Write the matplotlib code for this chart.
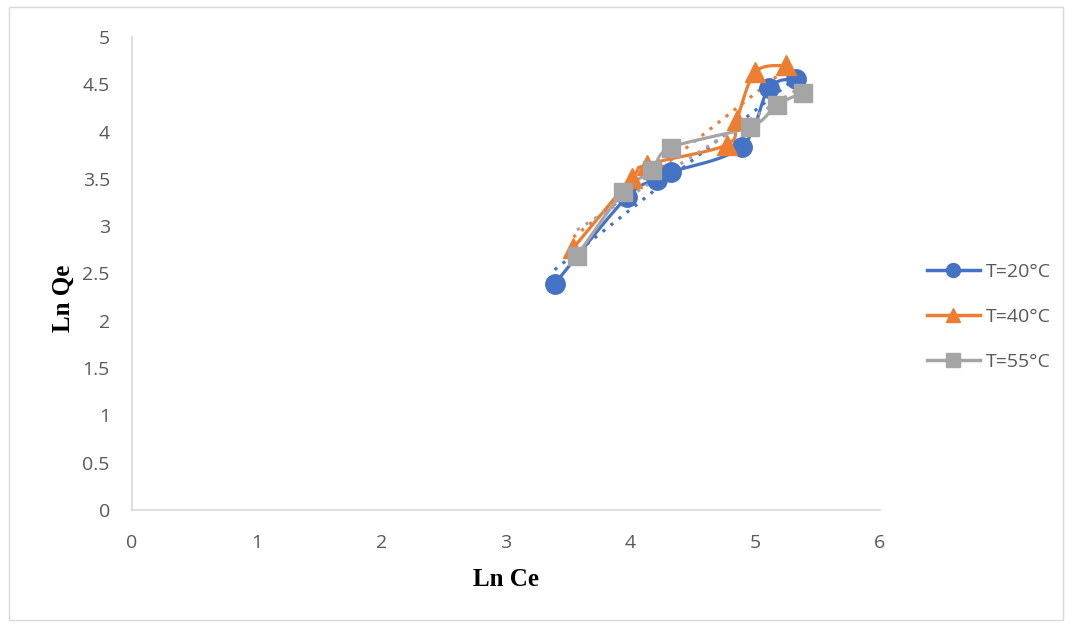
import numpy as np
import matplotlib.pyplot as plt

# Ln Ce / Ln Qe for each temperature
x20 = [3.39, 3.97, 4.21, 4.32, 4.89, 5.11, 5.33]
y20 = [2.39, 3.31, 3.49, 3.57, 3.84, 4.46, 4.56]
x40 = [3.54, 4.01, 4.13, 4.77, 4.85, 5.00, 5.25]
y40 = [2.77, 3.51, 3.65, 3.86, 4.12, 4.63, 4.70]
x55 = [3.57, 3.94, 4.17, 4.32, 4.96, 5.17, 5.38]
y55 = [2.69, 3.36, 3.59, 3.83, 4.05, 4.28, 4.41]
labels = ['T=20°C', 'T=40°C', 'T=55°C']
colors = ['#4472C4', '#ED7D31', '#A5A5A5']
markers = ['o', '^', 's']
msizes = [14, 14, 13]


# smooth line like excel (catmull-rom between points)
def smooth(x, y, n=30):
    p = np.column_stack([x, y])
    p = np.vstack([p[0], p, p[-1]])
    out = []
    for i in range(1, len(p) - 2):
        p0, p1, p2, p3 = p[i - 1], p[i], p[i + 1], p[i + 2]
        t = np.linspace(0, 1, n)[:, None]
        seg = 0.5 * ((2 * p1) + (-p0 + p2) * t + (2 * p0 - 5 * p1 + 4 * p2 - p3) * t**2
                     + (-p0 + 3 * p1 - 3 * p2 + p3) * t**3)
        out.append(seg)
    out = np.vstack(out)
    return out[:, 0], out[:, 1]


fig = plt.figure(figsize=(10.7, 6.24), dpi=100)
ax = fig.add_axes([0.1234, 0.1827, 0.699, 0.758])

series = [(x20, y20), (x40, y40), (x55, y55)]
for (x, y), lab, c, m, ms in zip(series, labels, colors, markers, msizes):
    sx, sy = smooth(x, y)
    ax.plot(sx, sy, color=c, lw=2.3, zorder=2)
    ax.plot(x, y, ls='none', marker=m, ms=ms, color=c, zorder=3)
    # linear trendline
    k, b = np.polyfit(x, y, 1)
    tx = np.array([min(x), max(x)])
    ax.plot(tx, k * tx + b, ls=(0, (1, 2.2)), lw=2.3, color=c, zorder=2)
    ax.plot([], [], color=c, lw=2.5, marker=m, ms=10, label=lab)

ax.set_xlim(0, 6)
ax.set_ylim(0, 5)
ax.set_xticks(range(0, 7))
ax.set_yticks(np.arange(0, 5.01, 0.5))
ax.set_yticklabels(['0', '0.5', '1', '1.5', '2', '2.5', '3', '3.5', '4', '4.5', '5'])
for s in ['top', 'right']:
    ax.spines[s].set_visible(False)
for s in ['left', 'bottom']:
    ax.spines[s].set_color('#D9D9D9')
    ax.spines[s].set_linewidth(1.2)
ax.tick_params(length=0, labelsize=14, labelcolor='#595959')
ax.tick_params(axis='x', pad=17)
ax.tick_params(axis='y', pad=16)
for t in ax.get_xticklabels() + ax.get_yticklabels():
    t.set_family('Open Sans')

ax.set_xlabel('Ln Ce', family='Liberation Serif', fontweight='bold', fontsize=18, labelpad=12)
ax.set_ylabel('Ln Qe', family='Liberation Serif', fontweight='bold', fontsize=18, labelpad=10)
ax.yaxis.set_label_coords(-0.076, 0.448)

leg = ax.legend(loc='center left', bbox_to_anchor=(1.063, 0.408), frameon=False,
                prop={'family': 'Open Sans', 'size': 14}, labelspacing=1.4,
                handlelength=2.7, handletextpad=0.3, borderaxespad=0, borderpad=0)
for t in leg.get_texts():
    t.set_color('#595959')

# chart border
fig.patches.append(plt.Rectangle((0.008, 0.006), 0.985, 0.982, transform=fig.transFigure,
                                 fill=False, edgecolor='#D9D9D9', lw=1))

fig.savefig('out.png', dpi=100)
